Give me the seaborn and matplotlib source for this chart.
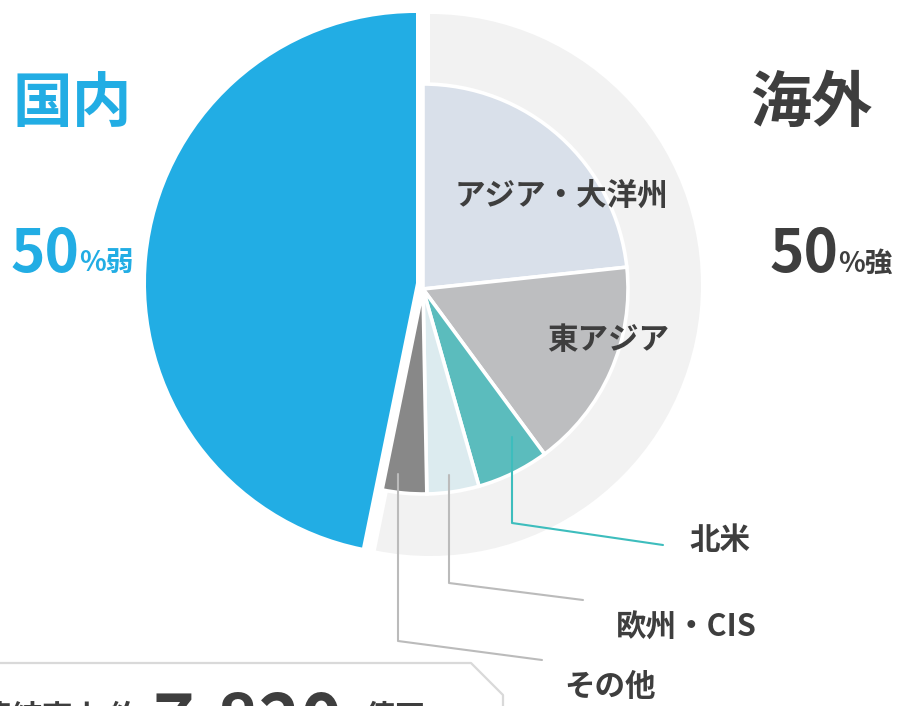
import matplotlib
matplotlib.use('Agg')
import matplotlib.pyplot as plt
import seaborn as sns

# values (percent of total sales)
domestic_share = 46.8
overseas_regions = ['アジア・大洋州', '東アジア', '北米', '欧州・CIS', 'その他']
overseas_shares = [23.3, 16.6, 5.7, 4.1, 3.5]
region_colors = ['#D9E0EA', '#BDBEC0', '#5BBCBD', '#DCEBEF', '#888888']
total_text = '7,820'

BLUE = '#22ADE4'
DARK = '#3E3E3E'
H = 706


def Y(y):
    # pixel row (top = 0) -> data y
    return H - y


sns.set_theme(style='white')
plt.rcParams['font.family'] = ['Noto Sans CJK JP', 'DejaVu Sans']

fig = plt.figure(figsize=(9.02, 7.06), dpi=100)
ax = fig.add_axes([0, 0, 1, 1])

overseas_share = sum(overseas_shares)

# domestic half (blue)
w, _ = ax.pie([overseas_share, domestic_share], colors=['none', BLUE],
              startangle=90, counterclock=False, center=(416, Y(283)),
              radius=270, wedgeprops=dict(linewidth=0))
w[0].set_visible(False)

# overseas background
w, _ = ax.pie([overseas_share, domestic_share], colors=['#F2F2F2', 'none'],
              startangle=90, counterclock=False, center=(430, Y(285)),
              radius=271, wedgeprops=dict(linewidth=0))
w[1].set_visible(False)

# overseas breakdown
w, _ = ax.pie(overseas_shares + [domestic_share], colors=region_colors + ['none'],
              startangle=90, counterclock=False, center=(423, Y(289)),
              radius=205, wedgeprops=dict(linewidth=2.6, edgecolor='white'))
w[-1].set_visible(False)

# pie() resets the limits, so fix the pixel frame afterwards
ax.set_xlim(0, 902)
ax.set_ylim(0, H)
ax.set_aspect('equal')
ax.axis('off')

# headline labels
ax.text(72, Y(105), '国内', color=BLUE, fontsize=43, fontweight='bold',
        ha='center', va='center')
ax.text(811, Y(104), '海外', color=DARK, fontsize=44, fontweight='bold',
        ha='center', va='center')
ax.text(11, Y(272), '50', color=BLUE, fontsize=42, fontweight='bold', va='baseline')
ax.text(79, Y(272), '%弱', color=BLUE, fontsize=20, fontweight='bold', va='baseline')
ax.text(770, Y(272), '50', color=DARK, fontsize=42, fontweight='bold', va='baseline')
ax.text(838, Y(272), '%強', color=DARK, fontsize=20, fontweight='bold', va='baseline')

# region labels
ax.text(561, Y(196), overseas_regions[0], color=DARK, fontsize=22,
        fontweight='bold', ha='center', va='center')
ax.text(608, Y(340), overseas_regions[1], color=DARK, fontsize=22,
        fontweight='bold', ha='center', va='center')
ax.text(720, Y(540), overseas_regions[2], color=DARK, fontsize=22,
        fontweight='bold', ha='center', va='center')
ax.text(686, Y(628), overseas_regions[3], color=DARK, fontsize=22,
        fontweight='bold', ha='center', va='center')
ax.text(610, Y(687), overseas_regions[4], color=DARK, fontsize=22,
        fontweight='bold', ha='center', va='center')

# leader lines
ax.plot([512, 512, 663], [Y(437), Y(523), Y(545)], color='#3DBDBD', lw=1.5)
ax.plot([449, 449, 583], [Y(475), Y(583), Y(600)], color='#BBBBBB', lw=1.5)
ax.plot([398, 398, 542], [Y(474), Y(641), Y(660)], color='#BBBBBB', lw=1.5)

# total box (cut off at the bottom)
ax.plot([-5, 471, 503, 503], [Y(663), Y(663), Y(695), Y(715)],
        color='#D9D9D9', lw=1.6, clip_on=False)
ax.text(140, Y(727), '連結売上 約', color=DARK, fontsize=22, fontweight='bold',
        ha='right', va='baseline')
ax.text(153, Y(745), total_text, color=DARK, fontsize=51, fontweight='bold',
        va='baseline')
ax.text(365, Y(727), '億円', color=DARK, fontsize=22, fontweight='bold',
        va='baseline')

fig.savefig('out.png', dpi=100)
